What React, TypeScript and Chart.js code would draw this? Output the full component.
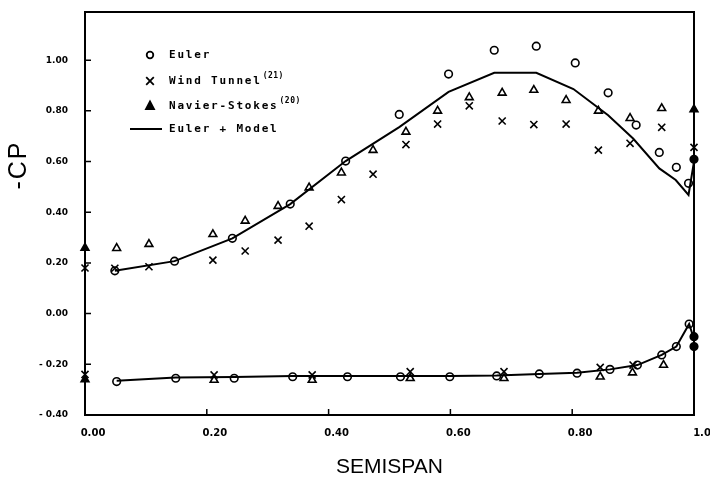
import React, { useEffect, useRef } from "react";
import { Chart, registerables } from "chart.js";

Chart.register(...registerables);

// Axis ticks
const xTickValues = [0, 0.2, 0.4, 0.6, 0.8, 1.0];
const yTickValues = [-0.4, -0.2, 0, 0.2, 0.4, 0.6, 0.8, 1.0];

// Euler (circles)
const eulerUpper: number[][] = [
  [0.049, 0.169], [0.147, 0.207], [0.242, 0.297], [0.337, 0.432], [0.428, 0.602],
  [0.516, 0.786], [0.597, 0.945], [0.672, 1.039], [0.741, 1.055], [0.805, 0.989],
  [0.859, 0.871], [0.905, 0.744], [0.943, 0.636], [0.971, 0.577], [0.991, 0.514],
  [1.0, 0.609],
];
const eulerLower: number[][] = [
  [0.052, -0.268], [0.149, -0.255], [0.245, -0.255], [0.341, -0.249], [0.431, -0.249],
  [0.518, -0.249], [0.599, -0.249], [0.676, -0.246], [0.746, -0.238], [0.808, -0.235],
  [0.862, -0.22], [0.907, -0.203], [0.947, -0.163], [0.971, -0.13], [0.992, -0.041],
  [1.0, -0.091], [1.0, -0.13],
];

// Wind Tunnel (21) (crosses)
const windUpper: number[][] = [
  [0.0, 0.18], [0.049, 0.179], [0.105, 0.185], [0.21, 0.211], [0.263, 0.247],
  [0.317, 0.29], [0.368, 0.345], [0.421, 0.45], [0.473, 0.55], [0.527, 0.667],
  [0.579, 0.748], [0.631, 0.82], [0.685, 0.76], [0.737, 0.746], [0.79, 0.748],
  [0.843, 0.645], [0.895, 0.672], [0.947, 0.735], [1.0, 0.656],
];
const windLower: number[][] = [
  [0.0, -0.24], [0.212, -0.242], [0.373, -0.242], [0.534, -0.229], [0.688, -0.229],
  [0.846, -0.212], [0.9, -0.203],
];

// Navier-Stokes (20) (triangles)
const navierUpper: number[][] = [
  [0.0, 0.259], [0.052, 0.258], [0.105, 0.274], [0.21, 0.313], [0.263, 0.366],
  [0.317, 0.424], [0.368, 0.497], [0.421, 0.556], [0.473, 0.645], [0.527, 0.717],
  [0.579, 0.8], [0.631, 0.853], [0.685, 0.871], [0.737, 0.882], [0.79, 0.842],
  [0.843, 0.8], [0.895, 0.771], [0.947, 0.81], [1.0, 0.806],
];
const navierLower: number[][] = [
  [0.0, -0.26], [0.212, -0.262], [0.373, -0.262], [0.534, -0.255], [0.688, -0.255],
  [0.846, -0.249], [0.899, -0.233], [0.95, -0.203],
];

// Euler + Model (solid line)
const modelUpper: number[][] = [
  [0.049, 0.169], [0.147, 0.207], [0.242, 0.297], [0.337, 0.432], [0.428, 0.602],
  [0.516, 0.736], [0.597, 0.875], [0.672, 0.95], [0.741, 0.95], [0.802, 0.886],
  [0.859, 0.783], [0.9, 0.691], [0.943, 0.573], [0.97, 0.527], [0.991, 0.468],
  [1.0, 0.6],
];
const modelLower: number[][] = [
  [0.052, -0.265], [0.149, -0.252], [0.245, -0.25], [0.341, -0.246], [0.431, -0.246],
  [0.518, -0.246], [0.599, -0.246], [0.676, -0.244], [0.746, -0.238], [0.808, -0.233],
  [0.862, -0.22], [0.907, -0.203], [0.947, -0.163], [0.971, -0.13], [0.992, -0.041],
  [1.0, -0.1],
];

const legendLabels = ["Euler", "Wind Tunnel", "Navier-Stokes", "Euler + Model"];
const legendRefs = ["", "(21)", "(20)", ""];
const xTitle = "SEMISPAN";
const yTitle = "-CP";

const toPts = (a: number[][]) => a.map(([x, y]) => ({ x, y }));

const fmtY = (v: number) => (v < 0 ? "- " + Math.abs(v).toFixed(2) : v.toFixed(2));
const fmtX = (v: number) => (v === 1 ? "1.0" : v.toFixed(2));

export default function App() {
  const ref = useRef<HTMLCanvasElement | null>(null);

  useEffect(() => {
    if (!ref.current) return;

    const edgeFill = (c: any) => {
      const r = c.raw;
      return r && (r.x <= 0 || r.x >= 1) ? "#000" : "rgba(0,0,0,0)";
    };
    const marker = (label: string, data: number[][], style: string, radius: number) => ({
      label,
      data: toPts(data),
      pointStyle: style,
      pointRadius: radius,
      pointHoverRadius: radius,
      pointBorderColor: "#000",
      pointBackgroundColor: edgeFill,
      pointBorderWidth: 1.6,
      showLine: false,
      clip: false,
    });
    const line = (label: string, data: number[][]) => ({
      label,
      data: toPts(data),
      showLine: true,
      borderColor: "#000",
      borderWidth: 2,
      pointRadius: 0,
      pointHoverRadius: 0,
      tension: 0,
      fill: false,
      clip: false,
    });

    const framePlugin = {
      id: "frame",
      beforeDatasetsDraw(chart: any) {
        const { ctx, chartArea: a, scales } = chart;
        ctx.save();
        ctx.strokeStyle = "#000";
        ctx.lineWidth = 2;
        ctx.strokeRect(a.left, a.top, a.right - a.left, a.bottom - a.top);
        ctx.lineWidth = 1.5;
        ctx.beginPath();
        scales.x.ticks.forEach((t: any) => {
          const px = scales.x.getPixelForValue(t.value);
          ctx.moveTo(px, a.bottom);
          ctx.lineTo(px, a.bottom - 6);
        });
        scales.y.ticks.forEach((t: any) => {
          const py = scales.y.getPixelForValue(t.value);
          ctx.moveTo(a.left, py);
          ctx.lineTo(a.left + 6, py);
        });
        ctx.stroke();
        ctx.restore();
      },
    };

    const legendPlugin = {
      id: "insideLegend",
      afterDraw(chart: any) {
        const { ctx } = chart;
        const rows = [55, 81, 106, 129];
        const mx = 150;
        const tx = 169;
        ctx.save();
        ctx.strokeStyle = "#000";
        ctx.fillStyle = "#000";
        ctx.lineWidth = 1.8;
        // circle
        ctx.beginPath();
        ctx.arc(mx, rows[0], 3.3, 0, Math.PI * 2);
        ctx.stroke();
        // cross
        ctx.beginPath();
        ctx.moveTo(mx - 3.8, rows[1] - 3.8);
        ctx.lineTo(mx + 3.8, rows[1] + 3.8);
        ctx.moveTo(mx + 3.8, rows[1] - 3.8);
        ctx.lineTo(mx - 3.8, rows[1] + 3.8);
        ctx.stroke();
        // triangle
        ctx.beginPath();
        ctx.moveTo(mx, rows[2] - 4.5);
        ctx.lineTo(mx + 4, rows[2] + 3);
        ctx.lineTo(mx - 4, rows[2] + 3);
        ctx.closePath();
        ctx.fill();
        ctx.stroke();
        // line
        ctx.lineWidth = 2;
        ctx.beginPath();
        ctx.moveTo(130, rows[3]);
        ctx.lineTo(162, rows[3]);
        ctx.stroke();
        // text
        ctx.textBaseline = "middle";
        ctx.textAlign = "left";
        legendLabels.forEach((lab, i) => {
          ctx.font = "bold 11px 'DejaVu Sans Mono'";
          (ctx as any).letterSpacing = "1.8px";
          ctx.fillText(lab, tx, rows[i]);
          const w = ctx.measureText(lab).width;
          if (legendRefs[i]) {
            ctx.font = "bold 8px 'DejaVu Sans Mono'";
            (ctx as any).letterSpacing = "0.5px";
            ctx.fillText(legendRefs[i], tx + w + 1, rows[i] - 5);
          }
        });
        // y title
        ctx.font = "25px 'Liberation Sans'";
        (ctx as any).letterSpacing = "2px";
        ctx.textAlign = "center";
        ctx.translate(19, 165);
        ctx.rotate(-Math.PI / 2);
        ctx.fillText(yTitle, 0, 0);
        ctx.restore();
      },
    };

    const chart = new Chart(ref.current, {
      type: "scatter",
      data: {
        datasets: [
          marker("Euler", eulerUpper, "circle", 3.8),
          marker("Euler", eulerLower, "circle", 3.8),
          marker("Wind Tunnel(21)", windUpper, "crossRot", 5),
          marker("Wind Tunnel(21)", windLower, "crossRot", 5),
          marker("Navier-Stokes(20)", navierUpper, "triangle", 4.5),
          marker("Navier-Stokes(20)", navierLower, "triangle", 4.5),
          line("Euler + Model", modelUpper),
          line("Euler + Model", modelLower),
        ] as any,
      },
      options: {
        animation: false,
        responsive: false,
        maintainAspectRatio: false,
        devicePixelRatio: 1,
        layout: { padding: { top: 12, right: 16, left: 0, bottom: 0 } },
        plugins: {
          legend: { display: false },
          tooltip: { enabled: false },
        },
        scales: {
          x: {
            type: "linear",
            min: 0,
            max: 1.0,
            afterBuildTicks: (s: any) => {
              s.ticks = xTickValues.map((v) => ({ value: v }));
            },
            afterFit: (s: any) => {
              s.height = 70;
              s.paddingLeft = 0;
              s.paddingRight = 0;
            },
            grid: { display: false, drawTicks: false },
            border: { display: false },
            ticks: {
              autoSkip: false,
              maxRotation: 0,
              padding: 12,
              labelOffset: 8,
              color: "#000",
              font: { family: "'DejaVu Sans'", size: 10, weight: "bold" },
              callback: (v: any) => fmtX(Number(v)),
            },
            title: {
              display: true,
              text: xTitle,
              color: "#000",
              font: { family: "'Liberation Sans'", size: 21, weight: "normal" },
              padding: { top: 0, bottom: 5 },
            },
          },
          y: {
            type: "linear",
            min: -0.4,
            max: 1.19,
            afterBuildTicks: (s: any) => {
              s.ticks = yTickValues.map((v) => ({ value: v }));
            },
            afterFit: (s: any) => {
              s.width = 85;
              s.paddingTop = 0;
              s.paddingBottom = 0;
            },
            grid: { display: false, drawTicks: false },
            border: { display: false },
            ticks: {
              autoSkip: false,
              padding: 17,
              color: "#000",
              font: { family: "'DejaVu Sans'", size: 9, weight: "bold" },
              callback: (v: any) => fmtY(Number(v)),
            },
          },
        },
      } as any,
      plugins: [framePlugin, legendPlugin],
    });

    return () => chart.destroy();
  }, []);

  return (
    <div style={{ position: "fixed", left: 0, top: 0, width: 710, height: 485, background: "#fff" }}>
      <canvas ref={ref} width={710} height={485} style={{ width: 710, height: 485, display: "block" }} />
    </div>
  );
}
